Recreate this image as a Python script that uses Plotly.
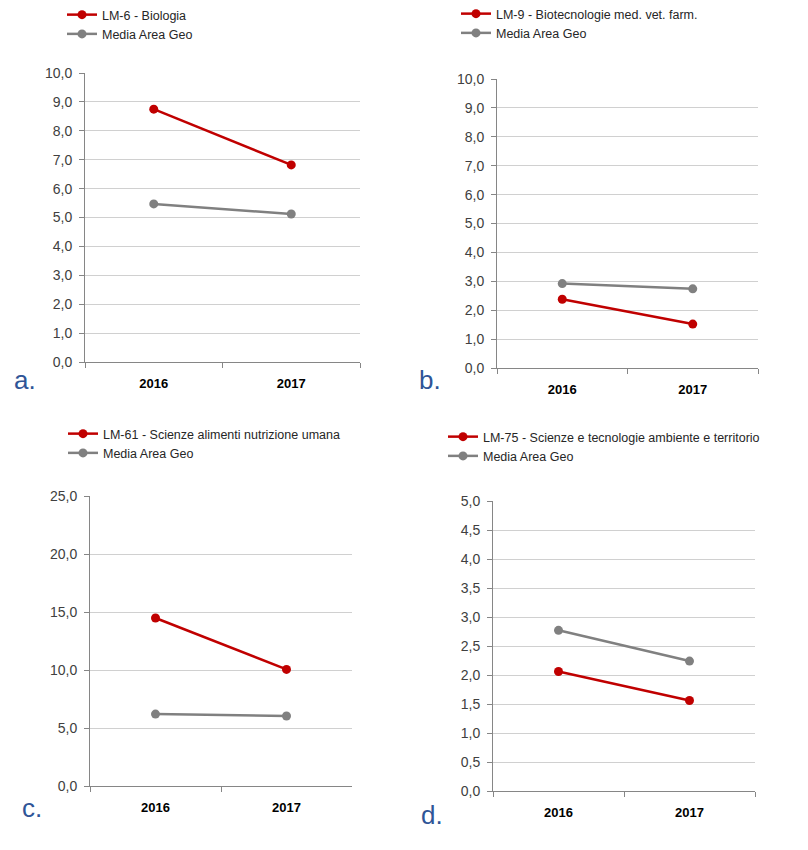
import plotly.graph_objects as go

years = ["2016", "2017"]

a_name = "LM-6 - Biologia"
a_red = [8.75, 6.82]
a_gray = [5.47, 5.12]

b_name = "LM-9 - Biotecnologie med. vet. farm."
b_red = [2.38, 1.52]
b_gray = [2.92, 2.74]

c_name = "LM-61 - Scienze alimenti nutrizione umana"
c_red = [14.48, 10.05]
c_gray = [6.2, 6.03]

d_name = "LM-75 - Scienze e tecnologie ambiente e territorio"
d_red = [2.06, 1.56]
d_gray = [2.77, 2.24]

gray_name = "Media Area Geo"

W, H = 808, 850
OFF = 8
def px(x): return (x - OFF) / W
def py(y): return 1 - (y - OFF) / H

panels = [
    dict(name=a_name, red=a_red, gray=a_gray, xd=[85, 360], yd=[362, 73], rng=[0, 10], dt=1.0,
         leg=(62, 0), letter="a.", lpos=(25, 380)),
    dict(name=b_name, red=b_red, gray=b_gray, xd=[497, 758], yd=[368, 79], rng=[0, 10], dt=1.0,
         leg=(456, -1), letter="b.", lpos=(430, 380)),
    dict(name=c_name, red=c_red, gray=c_gray, xd=[90, 352], yd=[786, 496], rng=[0, 25], dt=5.0,
         leg=(63, 419), letter="c.", lpos=(32, 808)),
    dict(name=d_name, red=d_red, gray=d_gray, xd=[493, 755], yd=[791, 501], rng=[0, 5], dt=0.5,
         leg=(443, 422), letter="d.", lpos=(432, 815)),
]

RED = "#C00000"
GRAY = "#808080"
fig = go.Figure()
layout = {}
annotations = []
for i, p in enumerate(panels):
    n = i + 1
    xa = "x" if n == 1 else f"x{n}"
    ya = "y" if n == 1 else f"y{n}"
    lg = "legend" if n == 1 else f"legend{n}"
    fig.add_trace(go.Scatter(x=years, y=p["red"], name=p["name"], mode="lines+markers",
                             line=dict(color=RED, width=2.5), marker=dict(color=RED, size=9),
                             xaxis=xa, yaxis=ya, legend=lg))
    fig.add_trace(go.Scatter(x=years, y=p["gray"], name=gray_name, mode="lines+markers",
                             line=dict(color=GRAY, width=2.5), marker=dict(color=GRAY, size=9),
                             xaxis=xa, yaxis=ya, legend=lg))
    xk = "xaxis" if n == 1 else f"xaxis{n}"
    yk = "yaxis" if n == 1 else f"yaxis{n}"
    layout[xk] = dict(domain=[px(p["xd"][0]), px(p["xd"][1])], anchor=ya, type="category",
                      range=[-0.5, 1.5], tickson="boundaries", ticks="outside", ticklen=5,
                      tickcolor="#868686", showline=True, linecolor="#868686", linewidth=1,
                      showgrid=False, automargin=False, ticklabelstandoff=9,
                      tickfont=dict(family="Liberation Sans", size=13, color="#000000", weight="bold"),
                      fixedrange=True)
    layout[yk] = dict(domain=[py(p["yd"][0]), py(p["yd"][1])], anchor=xa, range=p["rng"],
                      dtick=p["dt"], tick0=0, tickformat=".1f", ticks="outside", ticklen=5,
                      tickcolor="#868686", showline=True, linecolor="#868686", linewidth=1,
                      showgrid=True, gridcolor="#D0D0D0", gridwidth=1, zeroline=False,
                      automargin=False, ticklabelstandoff=4,
                      tickfont=dict(family="Liberation Sans", size=14, color="#404040"),
                      fixedrange=True)
    layout[lg] = dict(x=px(p["leg"][0]), y=py(p["leg"][1]), xanchor="left", yanchor="top",
                      bgcolor="rgba(0,0,0,0)", font=dict(family="Liberation Sans", size=12.5, color="#262626"),
                      tracegroupgap=0, itemwidth=30, traceorder="normal")
    annotations.append(dict(text=p["letter"], x=px(p["lpos"][0]), y=py(p["lpos"][1]), xref="paper", yref="paper",
                            showarrow=False, font=dict(family="Liberation Sans", size=26, color="#2F5597"),
                            xanchor="center", yanchor="middle"))

fig.update_layout(**layout)
fig.update_layout(width=W, height=H, margin=dict(l=0, r=0, t=0, b=0, autoexpand=False), plot_bgcolor="white",
                  paper_bgcolor="white", separators=",.", annotations=annotations, showlegend=True)
fig.write_html("out.html")
